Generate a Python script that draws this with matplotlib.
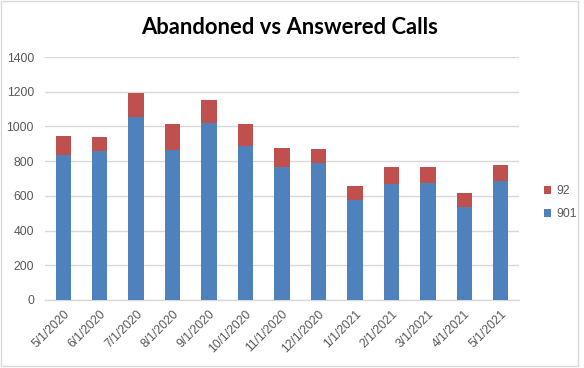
import matplotlib
matplotlib.use("Agg")
import matplotlib.pyplot as plt
from matplotlib.patches import Rectangle

categories = ["5/1/2020", "6/1/2020", "7/1/2020", "8/1/2020", "9/1/2020", "10/1/2020",
              "11/1/2020", "12/1/2020", "1/1/2021", "2/1/2021", "3/1/2021", "4/1/2021", "5/1/2021"]
answered_901 = [833, 856, 1056, 867, 1017, 890, 767, 787, 577, 671, 675, 537, 683]
abandoned_92 = [113, 84, 138, 148, 137, 125, 110, 84, 81, 96, 92, 80, 96]
yticks = [0, 200, 400, 600, 800, 1000, 1200, 1400]

blue = "#4F81BD"
red = "#C0504D"
grid = "#D9D9D9"
txt = "#595959"

plt.rcParams['font.family'] = ['Liberation Sans', 'DejaVu Sans']

fig = plt.figure(figsize=(5.84, 3.68), dpi=100)
W, H = 584, 368
ax = fig.add_axes([45 / W, 68 / H, 474 / W, 243 / H])

x = list(range(len(categories)))
ax.bar(x, answered_901, width=0.42, color=blue, label="901", zorder=3)
ax.bar(x, abandoned_92, width=0.42, bottom=answered_901, color=red, label="92", zorder=3)

ax.set_xlim(-0.5, len(categories) - 0.5)
ax.set_ylim(0, 1400)
ax.set_yticks(yticks)
ax.set_yticklabels([str(v) for v in yticks], fontsize=8.8, color=txt)
ax.set_xticks(x)
ax.set_xticklabels(categories, rotation=45, ha="right", rotation_mode="anchor",
                   fontsize=8.8, color=txt)
ax.tick_params(axis="both", length=0, pad=6)
ax.tick_params(axis="y", pad=8)
ax.yaxis.grid(True, color=grid, linewidth=1, zorder=0)
for s in ["top", "right", "left"]:
    ax.spines[s].set_visible(False)
ax.spines["bottom"].set_color(grid)
ax.spines["bottom"].set_linewidth(1)

fig.text(290 / W, 1 - 28 / H, "Abandoned vs Answered Calls", ha="center", va="center",
         fontsize=15.8, fontweight="bold", color="black", family=["Lato", "DejaVu Sans"])

handles, labels = ax.get_legend_handles_labels()
leg = fig.legend(handles[::-1], labels[::-1], loc="center left",
                 bbox_to_anchor=(533 / W, 1 - 203 / H), frameon=False,
                 fontsize=8.8, handlelength=0.6, handleheight=0.6,
                 handletextpad=0.4, labelspacing=0.9, labelcolor=txt)

# chart border
fig.patches.append(Rectangle((1 / W, 2 / H), 577 / W, 365 / H, transform=fig.transFigure,
                             fill=False, edgecolor="#D9D9D9", linewidth=1))

fig.savefig("out.png", dpi=100)
